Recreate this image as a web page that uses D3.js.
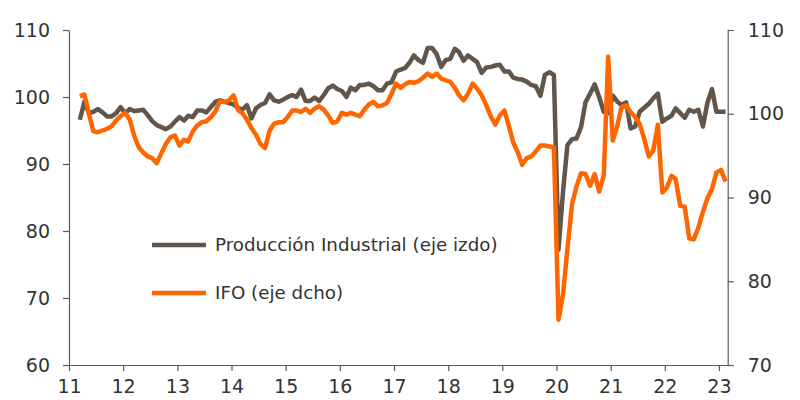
<!DOCTYPE html>
<html>
<head>
<meta charset="utf-8">
<script src="https://cdn.jsdelivr.net/npm/d3@7"></script>
<style>
  body { margin: 0; background: #fff; }
  svg { display: block; }
  text { font-family: "DejaVu Sans", sans-serif; fill: #333; }
</style>
</head>
<body>
<div id="chart"></div>
<script>
// monthly data, Mar 2011 .. Feb 2023
const firstMonth = new Date(2011, 2, 15);

const produccion = [
  96.6, 99.3, 97.6, 97.8, 98.2, 97.7, 97.1, 97.1, 97.6, 98.5,
  97.6, 98.2, 97.9, 98.0, 98.1, 97.3, 96.4, 95.8, 95.5, 95.2,
  95.6, 96.3, 97.0, 96.5, 97.2, 97.0, 98.0, 98.0, 97.7, 98.5,
  99.3, 99.5, 99.3, 99.1, 98.9, 98.4, 98.1, 98.8, 96.8, 98.3,
  98.8, 99.1, 100.4, 99.5, 99.3, 99.6, 100.0, 100.3, 100.0, 101.1,
  99.4, 99.4, 99.9, 99.4, 100.3, 101.3, 101.7, 101.2, 100.9, 100.0,
  101.4, 101.0, 101.8, 101.8, 102.0, 101.6, 101.0, 101.0, 102.0, 102.2,
  103.8, 104.1, 104.3, 105.1, 106.2, 105.5, 105.1, 107.3, 107.3, 106.4,
  104.5, 105.5, 105.7, 107.2, 106.7, 105.4, 106.2, 105.7, 105.2, 103.6,
  104.4, 104.5, 104.7, 104.8, 103.8, 103.8, 102.9, 102.7, 102.6, 102.3,
  101.8, 101.6, 100.2, 103.3, 103.7, 103.3, 77.2, 86.0, 92.8, 93.7,
  93.8, 95.5, 99.2, 100.5, 101.9, 100.0, 97.8, 97.6, 100.2, 99.3,
  98.8, 99.2, 95.3, 95.6, 97.8, 98.4, 99.0, 99.8, 100.5, 96.3,
  96.8, 97.2, 98.3, 97.6, 96.9, 98.1, 97.8, 98.1, 95.6, 99.1,
  101.2, 97.8, 97.8, 97.8
];

const ifo = [
  102.1, 102.3, 100.0, 97.9, 97.8, 98.0, 98.2, 98.5, 99.2, 99.7,
  100.1, 99.3, 97.4, 96.0, 95.4, 94.9, 94.7, 94.1, 95.3, 96.4,
  97.2, 97.4, 96.2, 96.9, 96.7, 97.9, 98.6, 99.0, 99.1, 99.6,
  100.3, 101.5, 101.4, 101.6, 102.2, 100.4, 100.1, 99.3, 98.3, 97.5,
  96.4, 95.9, 98.0, 98.8, 99.0, 99.0, 99.6, 100.4, 100.4, 100.2,
  100.6, 100.1, 100.6, 100.9, 100.5, 99.8, 98.9, 99.1, 100.1, 99.9,
  100.1, 99.9, 99.7, 100.5, 101.1, 101.4, 100.9, 101.0, 101.3, 102.4,
  103.6, 103.1, 103.5, 103.8, 103.7, 103.9, 104.3, 104.8, 104.4, 104.8,
  104.2, 104.0, 103.8, 103.1, 102.2, 101.6, 102.4, 103.6, 103.0, 102.2,
  101.0, 99.7, 98.7, 99.8, 100.4, 98.5, 96.6, 95.4, 93.9, 94.7,
  94.9, 95.5, 96.2, 96.2, 96.1, 96.0, 75.4, 78.5, 83.8, 89.2,
  91.3, 92.9, 92.8, 91.4, 92.8, 90.7, 92.6, 106.8, 96.8, 98.6,
  100.8, 101.0, 100.2, 99.6, 98.8, 97.0, 94.9, 95.6, 98.7, 90.6,
  91.2, 92.6, 92.2, 89.0, 88.9, 85.1, 85.0, 86.4, 88.3, 89.9,
  91.0, 93.0, 93.3, 91.9
];

const yearLabels = ["11", "12", "13", "14", "15", "16", "17", "18", "19", "20", "21", "22", "23"];
const leftTicks = [60, 70, 80, 90, 100, 110];
const rightTicks = [70, 80, 90, 100, 110];
const seriesNames = ["Producción Industrial (eje izdo)", "IFO (eje dcho)"];

const colors = { prod: "#62554a", ifo: "#ff6600", axis: "#595959" };
const width = 800, height = 400;
const plot = { left: 69, right: 727.7, top: 30, bottom: 365 };

const svg = d3.select("#chart").append("svg")
  .attr("width", width)
  .attr("height", height);

const x = d3.scaleTime()
  .domain([new Date(2011, 0, 1), new Date(2023, 2, 1)])
  .range([plot.left, plot.right]);

const yLeft = d3.scaleLinear().domain([60, 110]).range([plot.bottom, plot.top]);
const yRight = d3.scaleLinear().domain([70, 110]).range([plot.bottom, plot.top]);

const dates = produccion.map((d, i) => d3.timeMonth.offset(firstMonth, i));

// axes
const xAxis = svg.append("g")
  .attr("transform", `translate(0,${plot.bottom})`)
  .call(d3.axisBottom(x)
    .tickValues(yearLabels.map(y => new Date(2000 + +y, 0, 1)))
    .tickFormat((d, i) => yearLabels[i])
    .tickSize(6)
    .tickSizeOuter(0)
    .tickPadding(9));

const leftAxis = svg.append("g")
  .attr("transform", `translate(${plot.left},0)`)
  .call(d3.axisLeft(yLeft).tickValues(leftTicks).tickSize(6).tickSizeOuter(0).tickPadding(13));

const rightAxis = svg.append("g")
  .attr("transform", `translate(${plot.right},0)`)
  .call(d3.axisRight(yRight).tickValues(rightTicks).tickSize(6).tickSizeOuter(0).tickPadding(14));

[xAxis, leftAxis, rightAxis].forEach(g => {
  g.select(".domain").attr("stroke", colors.axis).attr("stroke-width", 1.2);
  g.selectAll(".tick line").attr("stroke", colors.axis).attr("stroke-width", 1.2);
  g.selectAll(".tick text")
    .attr("fill", "#333")
    .style("font-family", '"DejaVu Sans", sans-serif')
    .style("font-size", "19px");
});

// lines
const lineProd = d3.line()
  .x((d, i) => x(dates[i]))
  .y(d => yLeft(d));

const lineIfo = d3.line()
  .x((d, i) => x(dates[i]))
  .y(d => yRight(d));

svg.append("path")
  .datum(produccion)
  .attr("fill", "none")
  .attr("stroke", colors.prod)
  .attr("stroke-width", 4.5)
  .attr("stroke-linejoin", "round")
  .attr("d", lineProd);

svg.append("path")
  .datum(ifo)
  .attr("fill", "none")
  .attr("stroke", colors.ifo)
  .attr("stroke-width", 4.5)
  .attr("stroke-linejoin", "round")
  .attr("d", lineIfo);

// legend
const legend = svg.append("g");
const legendItems = [
  { name: seriesNames[0], color: colors.prod, y: 245 },
  { name: seriesNames[1], color: colors.ifo, y: 293 }
];
legendItems.forEach(item => {
  legend.append("line")
    .attr("x1", 152).attr("x2", 206)
    .attr("y1", item.y).attr("y2", item.y)
    .attr("stroke", item.color)
    .attr("stroke-width", 4.5);
  legend.append("text")
    .attr("x", 215)
    .attr("y", item.y)
    .attr("dy", "0.35em")
    .style("font-size", "18.3px")
    .text(item.name);
});
</script>
</body>
</html>
